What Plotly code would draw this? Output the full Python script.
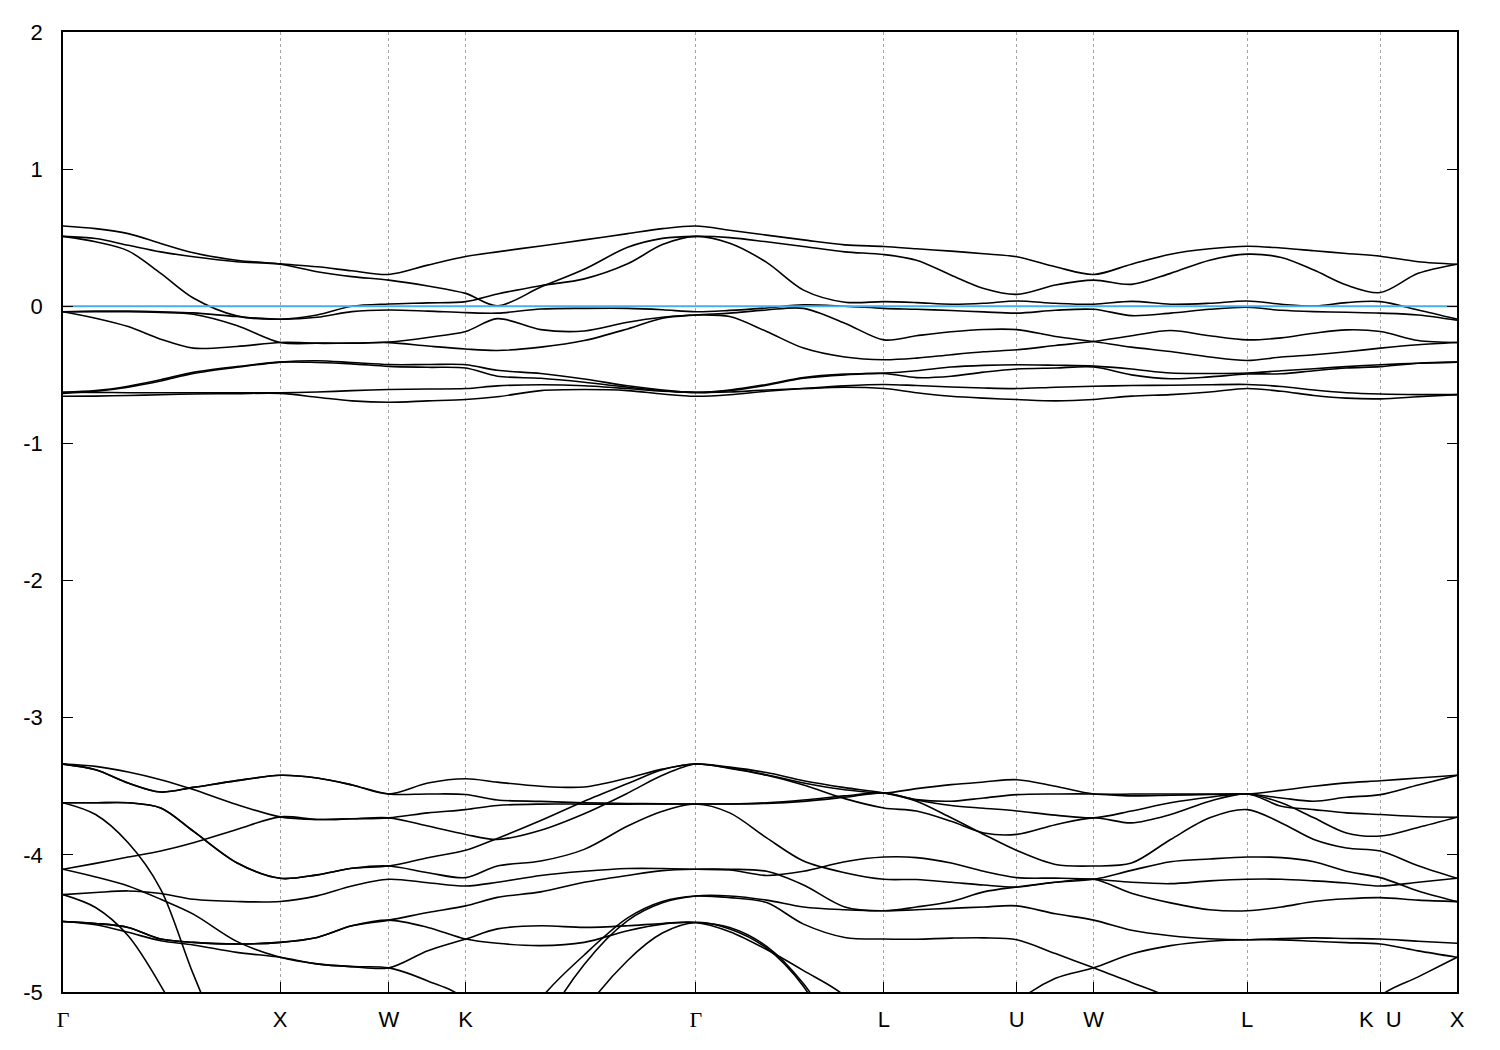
import plotly.graph_objects as go

# k-path sample points (units of 2pi/a along the fcc path)
k_path = [0.0, 0.15, 0.3, 0.45, 0.6, 0.8, 1.0,
          1.17, 1.33, 1.5,
          1.68, 1.854,
          2.0, 2.2, 2.4, 2.6, 2.76, 2.914,
          3.07, 3.24, 3.41, 3.6, 3.78,
          3.93, 4.09, 4.24, 4.392,
          4.57, 4.746,
          4.92, 5.1, 5.28, 5.453,
          5.61, 5.76, 5.91, 6.066,
          6.24, 6.419]

sym_k = [0.0, 1.0, 1.5, 1.854, 2.914, 3.78, 4.392, 4.746, 5.453, 6.066, 6.419]
sym_labels = ["Γ", "X", "W", "K", "Γ", "L", "U", "W", "L", "K\u00a0\u00a0U", "X"]

fermi_level = 0.0
y_ticks = [2, 1, 0, -1, -2, -3, -4, -5]

# upper band group (near the Fermi level)
band_v1 = [0.585, 0.566, 0.53, 0.458, 0.39, 0.336, 0.309, 0.288, 0.259, 0.232, 0.3, 0.363,
           0.397, 0.44, 0.484, 0.53, 0.566, 0.585, 0.555, 0.519, 0.484, 0.448, 0.436,
           0.419, 0.402, 0.383, 0.361, 0.288, 0.232, 0.307, 0.38, 0.419, 0.438,
           0.425, 0.405, 0.385, 0.365, 0.325, 0.307]
band_v2 = [0.51, 0.494, 0.445, 0.397, 0.361, 0.325, 0.307, 0.252, 0.216, 0.191, 0.148, 0.094,
           0.003, 0.14, 0.27, 0.43, 0.495, 0.51, 0.501, 0.47, 0.436, 0.397, 0.377,
           0.336, 0.227, 0.13, 0.087, 0.155, 0.191, 0.16, 0.24, 0.336, 0.38,
           0.356, 0.264, 0.155, 0.1, 0.24, 0.307]
band_v3 = [0.51, 0.47, 0.404, 0.24, 0.06, -0.07, -0.094, -0.063, 0.0, 0.017, 0.025, 0.034,
           0.09, 0.15, 0.2, 0.31, 0.45, 0.51, 0.46, 0.32, 0.118, 0.03, 0.034,
           0.027, 0.015, 0.022, 0.039, 0.022, 0.015, 0.036, 0.015, 0.022, 0.039,
           0.015, 0.002, 0.027, 0.034, -0.027, -0.094]
band_v4 = [-0.04, -0.035, -0.035, -0.04, -0.048, -0.075, -0.094, -0.08, -0.039, -0.027, -0.035, -0.046,
           -0.05, -0.02, -0.015, -0.015, -0.025, -0.04, -0.03, -0.012, 0.01, 0.0, -0.015,
           -0.022, -0.031, -0.041, -0.05, -0.029, -0.022, -0.068, -0.05, -0.022, -0.007,
           -0.029, -0.039, -0.044, -0.05, -0.063, -0.102]
band_v5 = [-0.04, -0.04, -0.04, -0.045, -0.058, -0.14, -0.264, -0.27, -0.268, -0.26, -0.227, -0.184,
           -0.09, -0.17, -0.18, -0.116, -0.08, -0.063, -0.075, -0.184, -0.305, -0.37, -0.39,
           -0.378, -0.353, -0.332, -0.317, -0.286, -0.257, -0.215, -0.177, -0.215, -0.245,
           -0.23, -0.196, -0.172, -0.184, -0.25, -0.264]
band_v6 = [-0.04, -0.087, -0.148, -0.24, -0.305, -0.293, -0.264, -0.268, -0.27, -0.265, -0.29, -0.312,
           -0.322, -0.298, -0.25, -0.165, -0.087, -0.063, -0.05, -0.027, -0.015, -0.123, -0.245,
           -0.215, -0.186, -0.169, -0.17, -0.22, -0.257, -0.298, -0.33, -0.37, -0.395,
           -0.37, -0.353, -0.332, -0.305, -0.28, -0.264]
band_v7 = [-0.627, -0.615, -0.583, -0.535, -0.482, -0.44, -0.407, -0.41, -0.42, -0.438, -0.445, -0.45,
           -0.51, -0.525, -0.554, -0.59, -0.615, -0.627, -0.61, -0.57, -0.52, -0.495, -0.487,
           -0.47, -0.443, -0.431, -0.426, -0.43, -0.436, -0.457, -0.487, -0.49, -0.487,
           -0.47, -0.455, -0.44, -0.426, -0.415, -0.407]
band_v8 = [-0.635, -0.62, -0.59, -0.545, -0.49, -0.445, -0.407, -0.397, -0.41, -0.425, -0.425, -0.426,
           -0.467, -0.49, -0.53, -0.58, -0.61, -0.63, -0.615, -0.575, -0.525, -0.5, -0.49,
           -0.52, -0.51, -0.48, -0.457, -0.45, -0.443, -0.5, -0.528, -0.515, -0.494,
           -0.492, -0.47, -0.45, -0.44, -0.415, -0.407]
band_v9 = [-0.627, -0.628, -0.63, -0.63, -0.63, -0.63, -0.63, -0.625, -0.615, -0.607, -0.603, -0.6,
           -0.58, -0.572, -0.579, -0.6, -0.62, -0.627, -0.625, -0.61, -0.6, -0.59, -0.6,
           -0.63, -0.656, -0.67, -0.68, -0.69, -0.68, -0.655, -0.644, -0.625, -0.6,
           -0.62, -0.65, -0.67, -0.675, -0.66, -0.644]
band_v10 = [-0.656, -0.655, -0.65, -0.645, -0.64, -0.637, -0.635, -0.663, -0.69, -0.7, -0.69, -0.68,
            -0.66, -0.615, -0.607, -0.615, -0.64, -0.656, -0.645, -0.62, -0.6, -0.58, -0.57,
            -0.578, -0.588, -0.596, -0.6, -0.59, -0.583, -0.578, -0.576, -0.572, -0.57,
            -0.585, -0.61, -0.63, -0.64, -0.644, -0.644]

# lower band group (-3.3 .. -5 and below)
band_c1 = [-3.338, -3.379, -3.476, -3.542, -3.508, -3.459, -3.42, -3.44, -3.49, -3.556, -3.476, -3.445,
           -3.47, -3.5, -3.505, -3.44, -3.375, -3.338, -3.367, -3.416, -3.476, -3.525, -3.549,
           -3.517, -3.488, -3.469, -3.452, -3.5, -3.556, -3.556, -3.556, -3.556, -3.556,
           -3.53, -3.5, -3.475, -3.46, -3.44, -3.42]
band_c2 = [-3.338, -3.379, -3.476, -3.542, -3.508, -3.459, -3.42, -3.44, -3.49, -3.556, -3.556, -3.56,
           -3.6, -3.61, -3.62, -3.625, -3.628, -3.629, -3.629, -3.62, -3.6, -3.57, -3.549,
           -3.597, -3.609, -3.585, -3.561, -3.556, -3.556, -3.57, -3.565, -3.56, -3.556,
           -3.585, -3.609, -3.58, -3.561, -3.49, -3.42]
band_c3 = [-3.338, -3.355, -3.396, -3.452, -3.524, -3.633, -3.723, -3.742, -3.737, -3.73, -3.79, -3.851,
           -3.888, -3.82, -3.7, -3.55, -3.42, -3.338, -3.37, -3.42, -3.49, -3.59, -3.658,
           -3.68, -3.755, -3.84, -3.851, -3.78, -3.73, -3.767, -3.706, -3.609, -3.556,
           -3.645, -3.67, -3.694, -3.706, -3.72, -3.726]
band_c4 = [-4.105, -4.062, -4.016, -3.972, -3.912, -3.815, -3.723, -3.742, -3.737, -3.73, -3.694, -3.67,
           -3.64, -3.63, -3.63, -3.63, -3.629, -3.629, -3.629, -3.625, -3.61, -3.58, -3.549,
           -3.6, -3.64, -3.66, -3.68, -3.71, -3.73, -3.68, -3.62, -3.58, -3.556,
           -3.62, -3.73, -3.84, -3.863, -3.8, -3.726]
band_c5 = [-3.62, -3.62, -3.62, -3.658, -3.827, -4.057, -4.171, -4.146, -4.098, -4.081, -4.13, -4.166,
           -4.081, -4.045, -3.96, -3.79, -3.682, -3.629, -3.694, -3.876, -4.045, -4.13, -4.178,
           -4.18, -4.2, -4.22, -4.234, -4.2, -4.178, -4.113, -4.05, -4.03, -4.016,
           -4.02, -4.05, -4.12, -4.166, -4.263, -4.341]
band_c6 = [-3.62, -3.62, -3.62, -3.658, -3.827, -4.057, -4.171, -4.146, -4.098, -4.081, -4.021, -3.967,
           -3.88, -3.75, -3.609, -3.48, -3.379, -3.338, -3.36, -3.40, -3.46, -3.51, -3.549,
           -3.609, -3.73, -3.851, -3.968, -4.07, -4.081, -4.06, -3.888, -3.73, -3.67,
           -3.767, -3.888, -3.95, -3.972, -4.08, -4.171]
band_c7 = [-4.29, -4.275, -4.263, -4.282, -4.324, -4.34, -4.34, -4.299, -4.227, -4.178, -4.203, -4.227,
           -4.2, -4.15, -4.12, -4.1, -4.1, -4.105, -4.11, -4.15, -4.12, -4.05, -4.016,
           -4.02, -4.06, -4.12, -4.166, -4.17, -4.178, -4.2, -4.21, -4.19, -4.178,
           -4.178, -4.19, -4.205, -4.227, -4.2, -4.171]
band_c8 = [-4.486, -4.5, -4.529, -4.614, -4.638, -4.65, -4.638, -4.602, -4.517, -4.476, -4.42, -4.372,
           -4.31, -4.27, -4.2, -4.15, -4.115, -4.105, -4.105, -4.12, -4.22, -4.38, -4.408,
           -4.38, -4.34, -4.27, -4.234, -4.2, -4.178, -4.28, -4.35, -4.4, -4.408,
           -4.38, -4.34, -4.32, -4.312, -4.33, -4.341]
band_c9 = [-4.486, -4.5, -4.529, -4.614, -4.638, -4.65, -4.638, -4.602, -4.517, -4.476, -4.529, -4.614,
           -4.645, -4.662, -4.638, -4.553, -4.505, -4.493, -4.53, -4.667, -4.94, -5.4, -5.9,
           -6.0, -5.7, -5.4, -5.08, -4.9, -4.824, -4.723, -4.662, -4.63, -4.619,
           -4.62, -4.63, -4.64, -4.65, -4.7, -4.747]
band_c10 = [-4.105, -4.161, -4.227, -4.324, -4.432, -4.631, -4.747, -4.795, -4.815, -4.824, -4.699, -4.614,
            -4.54, -4.517, -4.529, -4.517, -4.5, -4.493, -4.56, -4.69, -4.844, -5.03, -5.4,
            -5.8, -6.0, -6.2, -6.3, -6.3, -6.3, -6.2, -6.0, -5.9, -5.8,
            -5.7, -5.6, -5.4, -5.03, -4.89, -4.747]
band_c11 = [-4.486, -4.51, -4.565, -4.626, -4.657, -4.711, -4.747, -4.795, -4.815, -4.824, -4.92, -5.06,
            -5.6, -5.05, -4.73, -4.46, -4.34, -4.3, -4.312, -4.348, -4.505, -4.602, -4.614,
            -4.615, -4.607, -4.605, -4.619, -4.72, -4.824, -4.93, -5.05, -5.3, -5.5,
            -5.6, -5.7, -5.8, -5.9, -6.0, -6.1]
band_c12 = [-3.62, -3.706, -3.912, -4.251, -4.87, -5.6, -6.2, -6.5, -6.6, -6.6, -6.5, -6.4,
            -6.2, -5.3, -4.8, -4.48, -4.35, -4.3, -4.3, -4.33, -4.38, -4.4, -4.408,
            -4.4, -4.39, -4.38, -4.372, -4.43, -4.476, -4.55, -4.59, -4.612, -4.619,
            -4.61, -4.605, -4.61, -4.614, -4.63, -4.645]
band_c13 = [-4.29, -4.384, -4.59, -4.953, -5.4, -6.0, -6.5, -6.7, -6.8, -6.8, -6.8, -6.7,
            -6.5, -5.8, -5.15, -4.77, -4.57, -4.493, -4.54, -4.68, -4.96, -5.5, -6.0,
            -6.3, -6.5, -6.6, -6.7, -6.7, -6.7, -6.7, -6.7, -6.7, -6.7,
            -6.7, -6.7, -6.7, -6.7, -6.7, -6.7]

bands = [band_v1, band_v2, band_v3, band_v4, band_v5, band_v6, band_v7, band_v8, band_v9, band_v10,
         band_c1, band_c2, band_c3, band_c4, band_c5, band_c6, band_c7, band_c8, band_c9, band_c10,
         band_c11, band_c12, band_c13]

fig = go.Figure()
for band in bands:
    fig.add_trace(go.Scatter(x=k_path, y=band, mode="lines",
                             line=dict(color="black", width=1.6, shape="spline", smoothing=0.9),
                             hoverinfo="skip", showlegend=False))

fig.add_trace(go.Scatter(x=[k_path[0], k_path[-1]], y=[fermi_level, fermi_level], mode="lines",
                         line=dict(color="#4aaee6", width=2), hoverinfo="skip", showlegend=False))

tick_font = dict(family="Liberation Sans, Arial, sans-serif", size=22, color="black")
x_ticktext = [('<span style="font-family:Liberation Serif">%s</span>' % t) if t == "Γ" else t
              for t in sym_labels]

fig.update_layout(
    width=1500, height=1050,
    margin=dict(l=55, r=51, t=20, b=66),
    paper_bgcolor="white", plot_bgcolor="white",
    showlegend=False,
)
fig.update_xaxes(
    range=[sym_k[0], sym_k[-1]],
    tickmode="array", tickvals=sym_k, ticktext=x_ticktext,
    ticks="inside", ticklen=10, tickwidth=1, tickcolor="black",
    showline=True, linecolor="black", linewidth=1.6, mirror=True,
    showgrid=True, gridcolor="#a6a6a6", gridwidth=1, griddash="3px,3px",
    zeroline=False, tickfont=tick_font, ticklabelstandoff=7,
)
fig.update_yaxes(
    range=[-5, 2],
    tickmode="array", tickvals=y_ticks, ticktext=[str(v) for v in y_ticks],
    ticks="inside", ticklen=10, tickwidth=1, tickcolor="black",
    showline=True, linecolor="black", linewidth=1.6, mirror="ticks",
    showgrid=False, zeroline=False, tickfont=tick_font, ticklabelstandoff=14,
)

fig.write_html("out.html")
